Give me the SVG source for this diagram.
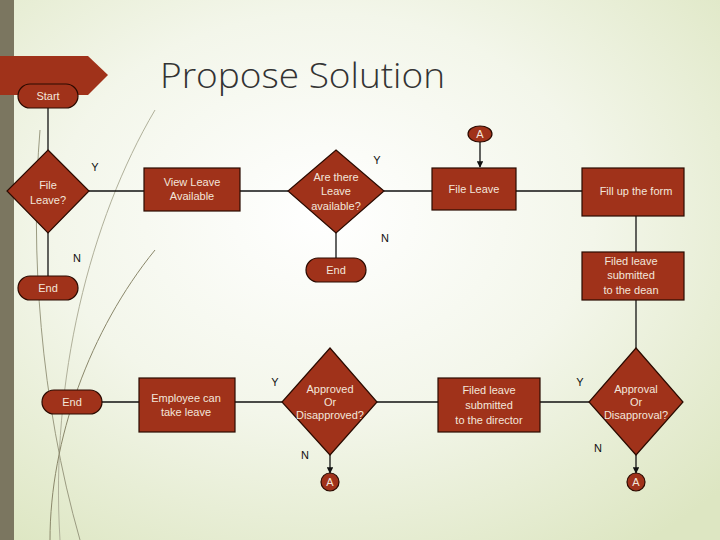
<svg xmlns="http://www.w3.org/2000/svg" width="720" height="540" viewBox="0 0 720 540">
<style>
.n{fill:#a0321a;stroke:#2a0a00;stroke-width:1.2}
.t{font-family:"Liberation Sans",Arial,sans-serif;font-size:11px;fill:#f3e6da;text-anchor:middle}
.l{font-family:"Liberation Sans",Arial,sans-serif;font-size:11px;fill:#111;text-anchor:middle}
.c line{stroke:#111;stroke-width:1.3}
</style>
<defs>
<radialGradient id="bg" cx="0.45" cy="0.4" r="0.75"><stop offset="0" stop-color="#ffffff"/><stop offset="0.5" stop-color="#f3f6ea"/><stop offset="1" stop-color="#dde6c2"/></radialGradient>
<marker id="ar" viewBox="0 0 10 10" refX="9" refY="5" markerWidth="5" markerHeight="5" orient="auto"><path d="M0,0L10,5L0,10z" fill="#111"/></marker>
</defs>
<rect width="720" height="540" fill="url(#bg)"/>
<rect width="14" height="540" fill="#7b7660"/>
<path d="M40,130 C30,250 40,400 80,540" fill="none" stroke="#9a9a80" stroke-width="1"/>
<path d="M155,110 C90,220 50,380 60,540" fill="none" stroke="#b0b09a" stroke-width="1"/>
<path d="M155,250 C90,330 50,440 50,540" fill="none" stroke="#8a876a" stroke-width="1"/>
<path d="M0,56 H88 L108,75 L88,95 H0 Z" fill="#a0321a"/>
<text x="160" y="88" font-family="'Open Sans','Liberation Sans',Arial,sans-serif" font-weight="300" font-size="35" fill="#333" textLength="285" lengthAdjust="spacingAndGlyphs">Propose Solution</text>
<g class="c">
<line x1="48" y1="108" x2="48" y2="150"/>
<line x1="89" y1="191" x2="144" y2="191"/>
<line x1="48" y1="233" x2="48" y2="276"/>
<line x1="240" y1="191" x2="288" y2="191"/>
<line x1="336" y1="233" x2="336" y2="258"/>
<line x1="384" y1="191" x2="432" y2="191"/>
<line x1="480" y1="142" x2="480" y2="167" marker-end="url(#ar)"/>
<line x1="516" y1="191" x2="582" y2="191"/>
<line x1="636" y1="216" x2="636" y2="252"/>
<line x1="636" y1="300" x2="636" y2="348"/>
<line x1="540" y1="402" x2="589" y2="402"/>
<line x1="377" y1="402" x2="438" y2="402"/>
<line x1="235" y1="402" x2="282" y2="402"/>
<line x1="102" y1="402" x2="139" y2="402"/>
<line x1="330" y1="455" x2="330" y2="473" marker-end="url(#ar)"/>
<line x1="636" y1="455" x2="636" y2="473" marker-end="url(#ar)"/>
</g>
<g id="start"><rect class="n" x="18" y="84" width="60" height="24" rx="12"/><text class="t" x="48" y="100">Start</text></g>
<g id="fileLeaveQ"><path class="n" d="M48,150 L89,191 L48,233 L7,191 Z"/><text class="t" x="48" y="189">File</text><text class="t" x="48" y="204">Leave?</text></g>
<g id="end1"><rect class="n" x="18" y="276" width="60" height="24" rx="12"/><text class="t" x="48" y="292">End</text></g>
<g id="viewLeave"><rect class="n" x="144" y="168" width="96" height="43"/><text class="t" x="192" y="186">View Leave</text><text class="t" x="192" y="200">Available</text></g>
<g id="areThere"><path class="n" d="M336,150 L384,191 L336,233 L288,191 Z"/><text class="t" x="336" y="181">Are there</text><text class="t" x="336" y="195">Leave</text><text class="t" x="336" y="210">available?</text></g>
<g id="end2"><rect class="n" x="306" y="258" width="60" height="24" rx="12"/><text class="t" x="336" y="274">End</text></g>
<g id="a1"><ellipse class="n" cx="480" cy="134" rx="12" ry="8"/><text class="t" x="480" y="138">A</text></g>
<g id="fileLeave"><rect class="n" x="432" y="168" width="84" height="42"/><text class="t" x="474" y="193">File Leave</text></g>
<g id="fillForm"><rect class="n" x="582" y="168" width="102" height="48"/><text class="t" x="636" y="195">Fill up the form</text></g>
<g id="dean"><rect class="n" x="582" y="252" width="102" height="48"/><text class="t" x="631" y="265">Filed leave</text><text class="t" x="631" y="279">submitted</text><text class="t" x="631" y="294">to the dean</text></g>
<g id="approval"><path class="n" d="M636,348 L683,402 L636,455 L589,402 Z"/><text class="t" x="636" y="393">Approval</text><text class="t" x="636" y="406">Or</text><text class="t" x="636" y="419">Disapproval?</text></g>
<g id="director"><rect class="n" x="438" y="378" width="102" height="54"/><text class="t" x="489" y="394">Filed leave</text><text class="t" x="489" y="409">submitted</text><text class="t" x="489" y="424">to the director</text></g>
<g id="approved"><path class="n" d="M330,348 L377,402 L330,455 L282,402 Z"/><text class="t" x="330" y="393">Approved</text><text class="t" x="330" y="406">Or</text><text class="t" x="330" y="419">Disapproved?</text></g>
<g id="employee"><rect class="n" x="139" y="378" width="96" height="54"/><text class="t" x="186" y="402">Employee can</text><text class="t" x="186" y="416">take leave</text></g>
<g id="end3"><rect class="n" x="42" y="390" width="60" height="24" rx="12"/><text class="t" x="72" y="406">End</text></g>
<g id="a2"><circle class="n" cx="330" cy="482" r="9"/><text class="t" x="330" y="486">A</text></g>
<g id="a3"><circle class="n" cx="636" cy="482" r="9"/><text class="t" x="636" y="486">A</text></g>
<text class="l" x="95" y="171">Y</text>
<text class="l" x="77" y="262">N</text>
<text class="l" x="377" y="164">Y</text>
<text class="l" x="385" y="242">N</text>
<text class="l" x="275" y="386">Y</text>
<text class="l" x="580" y="386">Y</text>
<text class="l" x="305" y="459">N</text>
<text class="l" x="598" y="452">N</text>
</svg>
